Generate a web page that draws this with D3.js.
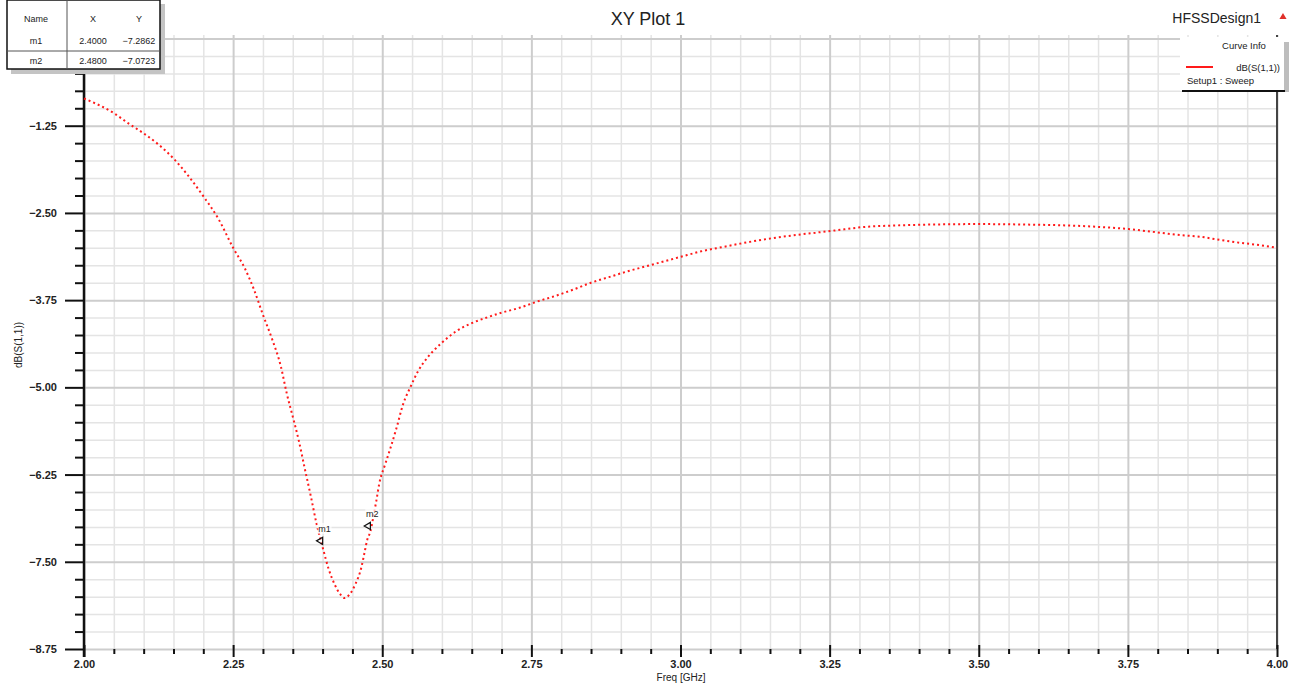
<!DOCTYPE html>
<html>
<head>
<meta charset="utf-8">
<script src="https://cdn.jsdelivr.net/npm/d3@7"></script>
<style>
  body { margin: 0; background: #fff; }
  svg { display: block; font-family: "Liberation Sans", Arial, sans-serif; }
</style>
</head>
<body>
<svg id="chart" width="1299" height="683"></svg>
<script>
// S11 sweep
const freq = [2.00, 2.05, 2.075, 2.10, 2.125, 2.15, 2.175, 2.20, 2.225, 2.25,
    2.27, 2.285, 2.30, 2.315, 2.33, 2.34, 2.35, 2.36, 2.37, 2.38,
    2.39, 2.40, 2.41, 2.42, 2.43, 2.437, 2.445, 2.455, 2.465, 2.47,
    2.475, 2.48, 2.485, 2.49, 2.495, 2.505, 2.513, 2.524, 2.535, 2.547,
    2.56, 2.575, 2.59, 2.60, 2.625, 2.65, 2.675, 2.70, 2.73, 2.76,
    2.79, 2.82, 2.85, 2.88, 2.91, 2.94, 2.97, 3.00, 3.04, 3.07,
    3.10, 3.14, 3.19, 3.22, 3.26, 3.31, 3.36, 3.40, 3.50, 3.60,
    3.65, 3.70, 3.75, 3.80, 3.84, 3.87, 3.90, 3.94, 3.97, 4.00];
const s11 = [-0.86, -1.07, -1.22, -1.36, -1.52, -1.72, -1.97, -2.26, -2.58, -3.00,
    -3.30, -3.60, -3.96, -4.30, -4.70, -5.09, -5.42, -5.76, -6.16, -6.55,
    -6.96, -7.29, -7.60, -7.82, -7.97, -8.02, -7.97, -7.82, -7.58, -7.38,
    -7.18, -7.07, -6.86, -6.63, -6.38, -6.10, -5.89, -5.58, -5.24, -5.00,
    -4.77, -4.58, -4.44, -4.36, -4.19, -4.08, -4.00, -3.93, -3.86, -3.77,
    -3.69, -3.60, -3.50, -3.42, -3.34, -3.27, -3.20, -3.13, -3.04, -2.99,
    -2.94, -2.88, -2.82, -2.79, -2.75, -2.70, -2.68, -2.67, -2.66, -2.67,
    -2.68, -2.70, -2.73, -2.78, -2.82, -2.84, -2.88, -2.93, -2.96, -3.00];

const xTicks = [2.00, 2.25, 2.50, 2.75, 3.00, 3.25, 3.50, 3.75, 4.00];
const yTicks = [-1.25, -2.50, -3.75, -5.00, -6.25, -7.50, -8.75];

const markerNames = ["m1", "m2"];
const markerX = [2.40, 2.48];
const markerY = [-7.2862, -7.0723];

const legendTitle = "Curve Info";
const curveName = "dB(S(1,1))";
const setupName = "Setup1 : Sweep";

const svg = d3.select("#chart");
const plotLeft = 84, plotRight = 1277, plotTop = 35, plotBottom = 649;

const x = d3.scaleLinear().domain([2, 4]).range([plotLeft, plotRight]);
const y = d3.scaleLinear().domain([-8.75, 0.05]).range([plotBottom, plotTop]);

const xMinor = d3.range(2.05, 4.0, 0.05).filter(v => Math.abs(v * 4 - Math.round(v * 4)) > 1e-6);
const yMinor = d3.range(-8.5, 0.01, 0.25).filter(v => Math.abs(v / 1.25 - Math.round(v / 1.25)) > 1e-6);
const yMajorGrid = yTicks.concat([0]);

// grid
svg.append("g")
    .attr("transform", `translate(0,${plotBottom})`)
    .call(d3.axisBottom(x).tickValues(xMinor).tickSize(-(plotBottom - plotTop)).tickFormat(""))
    .call(g => g.select(".domain").remove())
    .call(g => g.selectAll("line").attr("stroke", "#e4e4e4").attr("stroke-width", 1.5));
svg.append("g")
    .attr("transform", `translate(${plotLeft},0)`)
    .call(d3.axisLeft(y).tickValues(yMinor).tickSize(-(plotRight - plotLeft)).tickFormat(""))
    .call(g => g.select(".domain").remove())
    .call(g => g.selectAll("line").attr("stroke", "#e4e4e4").attr("stroke-width", 1.5));
svg.append("g")
    .attr("transform", `translate(0,${plotBottom})`)
    .call(d3.axisBottom(x).tickValues(xTicks).tickSize(-(plotBottom - plotTop)).tickFormat(""))
    .call(g => g.select(".domain").remove())
    .call(g => g.selectAll("line").attr("stroke", "#cdcdcd").attr("stroke-width", 2));
svg.append("g")
    .attr("transform", `translate(${plotLeft},0)`)
    .call(d3.axisLeft(y).tickValues(yMajorGrid).tickSize(-(plotRight - plotLeft)).tickFormat(""))
    .call(g => g.select(".domain").remove())
    .call(g => g.selectAll("line").attr("stroke", "#cdcdcd").attr("stroke-width", 2));

// right edge
svg.append("line")
    .attr("x1", plotRight).attr("x2", plotRight)
    .attr("y1", plotTop).attr("y2", plotBottom)
    .attr("stroke", "#444").attr("stroke-width", 2);

// y axis
svg.append("g")
    .attr("transform", `translate(${plotLeft},0)`)
    .call(d3.axisLeft(y).tickValues(yMinor).tickSize(9).tickFormat(""))
    .call(g => g.select(".domain").remove())
    .call(g => g.selectAll("line").attr("stroke", "#111").attr("stroke-width", 2));
svg.append("g")
    .attr("transform", `translate(${plotLeft},0)`)
    .call(d3.axisLeft(y).tickValues(yTicks).tickSize(19).tickPadding(8).tickFormat(d3.format(".2f")))
    .call(g => g.select(".domain").remove())
    .call(g => g.selectAll("line").attr("stroke", "#111").attr("stroke-width", 2))
    .call(g => g.selectAll("text").attr("fill", "#222").attr("font-size", 11).attr("font-weight", "bold"));
svg.append("line")
    .attr("x1", plotLeft).attr("x2", plotLeft)
    .attr("y1", plotTop).attr("y2", plotBottom + 8)
    .attr("stroke", "#111").attr("stroke-width", 2.5);

// x axis (ticks only, below the plot)
svg.append("g")
    .attr("transform", `translate(0,${plotBottom})`)
    .call(d3.axisBottom(x).tickValues(xMinor).tickSize(5).tickFormat(""))
    .call(g => g.select(".domain").remove())
    .call(g => g.selectAll("line").attr("stroke", "#111").attr("stroke-width", 2));
svg.append("g")
    .attr("transform", `translate(0,${plotBottom - 4})`)
    .call(d3.axisBottom(x).tickValues(xTicks).tickSize(12).tickPadding(3).tickFormat(d3.format(".2f")))
    .call(g => g.select(".domain").remove())
    .call(g => g.selectAll("line").attr("stroke", "#111").attr("stroke-width", 2))
    .call(g => g.selectAll("text").attr("fill", "#222").attr("font-size", 11).attr("font-weight", "bold"));

// axis titles
svg.append("text")
    .attr("transform", "translate(22,345) rotate(-90)")
    .attr("text-anchor", "middle")
    .attr("font-size", 10)
    .attr("fill", "#222")
    .text("dB(S(1,1))");
svg.append("text")
    .attr("x", 681).attr("y", 681)
    .attr("text-anchor", "middle")
    .attr("font-size", 10)
    .attr("fill", "#222")
    .text("Freq [GHz]");

// curve
const line = d3.line()
    .x((d, i) => x(freq[i]))
    .y(d => y(d))
    .curve(d3.curveMonotoneX);
svg.append("path")
    .datum(s11)
    .attr("d", line)
    .attr("fill", "none")
    .attr("stroke", "#ff1a1a")
    .attr("stroke-width", 2)
    .attr("stroke-dasharray", "2,3");

// markers on the curve
markerNames.forEach((name, i) => {
    let mx = x(markerX[i]), my = y(markerY[i]);
    svg.append("path")
        .attr("d", d3.symbol(d3.symbolTriangle, 22)())
        .attr("transform", `translate(${mx - 2},${my - 6}) rotate(-90)`)
        .attr("fill", "none")
        .attr("stroke", "#111")
        .attr("stroke-width", 1.2);
    svg.append("rect")
        .attr("x", mx - 5).attr("y", my - 24)
        .attr("width", 14).attr("height", 11)
        .attr("fill", "#fff").attr("opacity", 0.7);
    svg.append("text")
        .attr("x", mx + 2).attr("y", my - 15)
        .attr("text-anchor", "middle")
        .attr("font-size", 9)
        .attr("fill", "#222")
        .text(name);
});

// title
svg.append("text")
    .attr("x", 648).attr("y", 25)
    .attr("text-anchor", "middle")
    .attr("font-size", 18)
    .attr("fill", "#222")
    .text("XY Plot 1");
svg.append("text")
    .attr("x", 1261).attr("y", 23)
    .attr("text-anchor", "end")
    .attr("font-size", 14)
    .attr("fill", "#222")
    .text("HFSSDesign1");
svg.append("path")
    .attr("d", d3.symbol(d3.symbolTriangle, 22)())
    .attr("transform", "translate(1283,17)")
    .attr("fill", "#e0302a");

// legend
svg.append("rect")
    .attr("x", 1284).attr("y", 42).attr("width", 5).attr("height", 50)
    .attr("fill", "#bdbdbd");
svg.append("rect")
    .attr("x", 1180).attr("y", 37).attr("width", 104).attr("height", 54)
    .attr("fill", "#fff");
svg.append("line")
    .attr("x1", 1182).attr("x2", 1285)
    .attr("y1", 91).attr("y2", 91)
    .attr("stroke", "#111").attr("stroke-width", 2);
svg.append("text")
    .attr("x", 1244).attr("y", 49)
    .attr("text-anchor", "middle")
    .attr("font-size", 9.5)
    .attr("fill", "#222")
    .text(legendTitle);
svg.append("line")
    .attr("x1", 1186).attr("x2", 1213)
    .attr("y1", 67).attr("y2", 67)
    .attr("stroke", "#ff1a1a").attr("stroke-width", 2);
svg.append("text")
    .attr("x", 1280).attr("y", 71)
    .attr("text-anchor", "end")
    .attr("font-size", 9.5)
    .attr("fill", "#222")
    .text(curveName);
svg.append("text")
    .attr("x", 1187).attr("y", 84)
    .attr("font-size", 9.5)
    .attr("fill", "#222")
    .text(setupName);

// marker table
svg.append("rect")
    .attr("x", 11).attr("y", 4).attr("width", 154).attr("height", 70)
    .attr("fill", "#c4c4c4");
svg.append("rect")
    .attr("x", 7).attr("y", 0).attr("width", 153).attr("height", 69)
    .attr("fill", "#fff").attr("stroke", "#111").attr("stroke-width", 1.5);
svg.append("line")
    .attr("x1", 67).attr("x2", 67).attr("y1", 0).attr("y2", 69)
    .attr("stroke", "#555").attr("stroke-width", 1);
svg.append("line")
    .attr("x1", 7).attr("x2", 160).attr("y1", 51).attr("y2", 51)
    .attr("stroke", "#555").attr("stroke-width", 1);
const colX = [36, 93, 139];
["Name", "X", "Y"].forEach((h, j) => {
    svg.append("text")
        .attr("x", colX[j]).attr("y", 22)
        .attr("text-anchor", "middle")
        .attr("font-size", 9)
        .attr("fill", "#222")
        .text(h);
});
markerNames.forEach((name, i) => {
    let rowY = 44 + i * 20;
    [name, d3.format(".4f")(markerX[i]), d3.format(".4f")(markerY[i])].forEach((t, j) => {
        svg.append("text")
            .attr("x", colX[j]).attr("y", rowY)
            .attr("text-anchor", "middle")
            .attr("font-size", 9)
            .attr("fill", "#222")
            .text(t);
    });
});
</script>
</body>
</html>
